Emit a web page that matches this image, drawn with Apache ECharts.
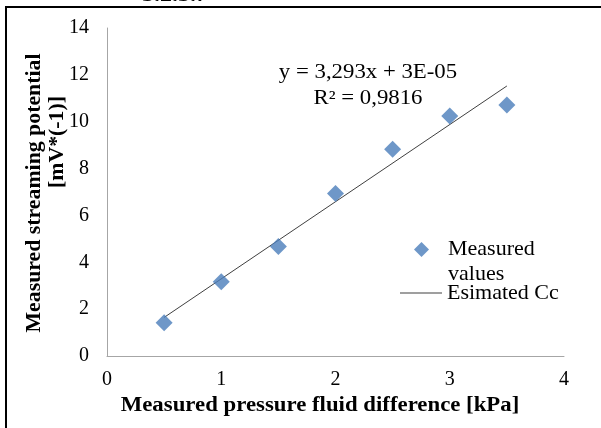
<!DOCTYPE html>
<html>
<head>
<meta charset="utf-8">
<script src="https://cdn.jsdelivr.net/npm/echarts@6/dist/echarts.min.js"></script>
<style>
  html, body { margin: 0; padding: 0; background: #ffffff; }
  #chart { width: 601px; height: 428px; }
</style>
</head>
<body>
<div id="chart"></div>
<script>
// Measured pressure difference [kPa] and streaming potential [mV*(-1)]
const pressure = [0.5, 1.0, 1.5, 2.0, 2.5, 3.0, 3.5];
const potential = [1.42, 3.17, 4.67, 6.94, 8.82, 10.24, 10.71];

// Linear trend line coefficients (y = slope * x + intercept)
const slope = 3.293;
const intercept = 0.00003;
const rSquared = 0.9816;

const xTicks = [0, 1, 2, 3, 4];
const yTicks = [0, 2, 4, 6, 8, 10, 12, 14];

const serif = '"Liberation Serif", "Times New Roman", serif';
const blue = '#4a7dba';
const wide = 1.14; // horizontal stretch of the annotation text

const points = pressure.map((x, i) => [x, potential[i]]);
const xFirst = pressure[0];
const xLast = pressure[pressure.length - 1];
const trend = [[xFirst, slope * xFirst + intercept], [xLast, slope * xLast + intercept]];

const fmt = v => String(v).replace('.', ',');

const chart = echarts.init(document.getElementById('chart'), null, { renderer: 'canvas' });

chart.setOption({
  backgroundColor: '#ffffff',
  animation: false,
  grid: { left: 107, right: 37, top: 28, bottom: 72, containLabel: false },
  xAxis: {
    type: 'value',
    min: xTicks[0],
    max: xTicks[xTicks.length - 1],
    interval: 1,
    axisLine: { show: true, lineStyle: { color: '#a6a6a6', width: 1 } },
    axisTick: { show: false },
    splitLine: { show: false },
    axisLabel: { margin: 14, fontFamily: serif, fontSize: 20, color: '#000' }
  },
  yAxis: {
    type: 'value',
    min: yTicks[0],
    max: yTicks[yTicks.length - 1],
    interval: 2,
    axisLine: { show: true, lineStyle: { color: '#a6a6a6', width: 1 } },
    axisTick: { show: false },
    splitLine: { show: false },
    axisLabel: { margin: 18, fontFamily: serif, fontSize: 20, color: '#000' }
  },
  legend: [
    {
      // leading blank line keeps the marker level with the first text line
      data: [{ name: 'Measured values', icon: 'diamond' }],
      left: 409, top: 207,
      itemWidth: 15, itemHeight: 15,
      formatter: () => ' \nMeasured\nvalues',
      textStyle: { fontFamily: serif, fontSize: 22, color: '#000', lineHeight: 25, padding: [0, 0, 0, 14] }
    },
    {
      data: [{ name: 'Esimated Cc', icon: 'rect' }],
      left: 395, top: 277,
      itemWidth: 42, itemHeight: 1,
      formatter: () => 'Esimated Cc',
      textStyle: { fontFamily: serif, fontSize: 22, color: '#000' }
    }
  ],
  series: [
    {
      name: 'Esimated Cc',
      type: 'line',
      data: trend,
      symbol: 'none',
      itemStyle: { color: '#404040' },
      lineStyle: { color: '#404040', width: 1 },
      z: 2
    },
    {
      name: 'Measured values',
      type: 'scatter',
      data: points,
      symbol: 'diamond',
      symbolSize: 17,
      itemStyle: { color: blue },
      z: 3
    }
  ],
  graphic: [
    // figure frame
    { type: 'line', shape: { x1: 6, y1: 7, x2: 601, y2: 7 }, style: { stroke: '#000', lineWidth: 2 } },
    { type: 'line', shape: { x1: 6, y1: 6, x2: 6, y2: 428 }, style: { stroke: '#000', lineWidth: 2 } },
    // section number above the frame
    { type: 'text', x: 142, y: 6, scaleX: wide, style: { text: '5.2.3.7', font: 'bold 21px ' + serif, fill: '#000', verticalAlign: 'bottom' } },
    // trend line equation
    { type: 'text', x: 368, y: 73, scaleX: wide, style: { text: 'y = ' + fmt(slope) + 'x + 3E-05', font: '20px ' + serif, fill: '#000', align: 'center', verticalAlign: 'middle' } },
    { type: 'text', x: 368, y: 99, scaleX: wide, style: { text: 'R\u00b2 = ' + fmt(rSquared), font: '20px ' + serif, fill: '#000', align: 'center', verticalAlign: 'middle' } },
    // axis titles
    { type: 'text', x: 320, y: 406, scaleX: wide, style: { text: 'Measured pressure fluid difference [kPa]', font: 'bold 20px ' + serif, fill: '#000', align: 'center', verticalAlign: 'middle' } },
    { type: 'text', x: 35, y: 193, rotation: Math.PI / 2, scaleX: 1.09, style: { text: 'Measured streaming potential', font: 'bold 20px ' + serif, fill: '#000', align: 'center', verticalAlign: 'middle' } },
    { type: 'text', x: 58, y: 142, rotation: Math.PI / 2, scaleX: 1.09, style: { text: '[mV*(-1)]', font: 'bold 20px ' + serif, fill: '#000', align: 'center', verticalAlign: 'middle' } }
  ]
});
</script>
</body>
</html>
